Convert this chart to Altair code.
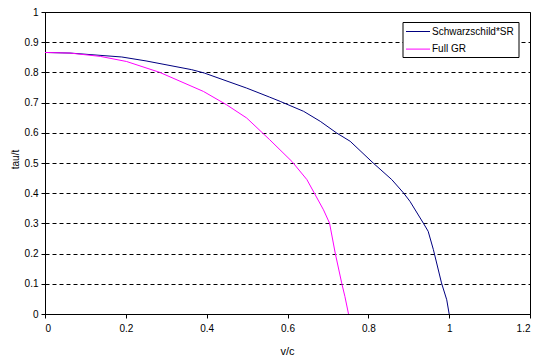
import altair as alt
import pandas as pd

# Schwarzschild*SR series
sr_v = [0, 0.062, 0.19, 0.25, 0.363, 0.394, 0.499, 0.556, 0.582, 0.64, 0.681, 0.722, 0.755, 0.812, 0.858, 0.887, 0.903, 0.936, 0.948, 0.961, 0.981, 0.994, 1.0]
sr_t = [0.866, 0.864, 0.851, 0.838, 0.809, 0.798, 0.748, 0.718, 0.704, 0.671, 0.638, 0.599, 0.572, 0.50, 0.445, 0.401, 0.373, 0.301, 0.274, 0.213, 0.103, 0.047, 0.0]

# Full GR series
gr_v = [0, 0.062, 0.137, 0.202, 0.284, 0.392, 0.449, 0.499, 0.556, 0.611, 0.648, 0.689, 0.704, 0.718, 0.734, 0.742, 0.751]
gr_t = [0.866, 0.864, 0.853, 0.836, 0.80, 0.737, 0.693, 0.649, 0.577, 0.505, 0.445, 0.345, 0.301, 0.202, 0.103, 0.058, 0.0]

series_names = ["Schwarzschild*SR", "Full GR"]
series_colors = ["#000080", "#FF00FF"]

x_ticks = [0, 0.2, 0.4, 0.6, 0.8, 1.0, 1.2]
y_ticks = [0, 0.1, 0.2, 0.3, 0.4, 0.5, 0.6, 0.7, 0.8, 0.9, 1.0]

rows = []
for i, (v, t) in enumerate(zip(sr_v, sr_t)):
    rows.append({"v": v, "t": t, "series": series_names[0], "order": i})
for i, (v, t) in enumerate(zip(gr_v, gr_t)):
    rows.append({"v": v, "t": t, "series": series_names[1], "order": i})
df = pd.DataFrame(rows)

FONT = "Liberation Sans"

lines = alt.Chart(df).mark_line(strokeWidth=1).encode(
    x=alt.X("v:Q", title="v/c",
            scale=alt.Scale(domain=[0, 1.2], nice=False, zero=True),
            axis=alt.Axis(values=x_ticks, format=".1~f",
                          grid=False, tickSize=4, labelPadding=5,
                          titleFontSize=11,
                          titleX=242, titleY=40, titleBaseline="alphabetic")),
    y=alt.Y("t:Q", title="tau/t",
            scale=alt.Scale(domain=[0, 1], nice=False),
            axis=alt.Axis(values=y_ticks,
                          format=".1~f", grid=True, gridDash=[4, 3], gridColor="black",
                          gridOpacity=1, tickSize=4, labelPadding=3,
                          titleFontSize=10,
                          titleX=-27, titleY=147, titleBaseline="alphabetic")),
    color=alt.Color("series:N",
                    scale=alt.Scale(domain=series_names, range=series_colors),
                    legend=None),
    order="order:Q",
)

# legend drawn as decoration
box = alt.Chart().mark_rect(fill="white", stroke="black", strokeWidth=1).encode(
    x=alt.value(358), x2=alt.value(474), y=alt.value(10.5), y2=alt.value(45.5))
leg_layers = [box]
for i, (name, col) in enumerate(zip(series_names, series_colors)):
    yy = 19.5 + i * 17.6
    leg_layers.append(alt.Chart().mark_rule(color=col, strokeWidth=1).encode(
        x=alt.value(361), x2=alt.value(385), y=alt.value(yy)))
    leg_layers.append(alt.Chart().mark_text(
        text=name, align="left", baseline="middle", font=FONT, fontSize=10,
        color="black").encode(x=alt.value(387), y=alt.value(yy)))

chart = alt.layer(lines, *leg_layers).properties(
    width=485, height=302,
    autosize=alt.AutoSizeParams(type="none"),
    padding={"left": 37, "top": 4, "right": 2, "bottom": 42},
).configure_view(
    stroke="black", strokeWidth=1
).configure_axis(
    domainColor="black", tickColor="black", labelColor="black", titleColor="black",
    labelFont=FONT, titleFont=FONT, labelFontSize=10,
    titleFontWeight="normal"
)

chart.save("out.html", embed_options={"renderer": "svg", "actions": False})
